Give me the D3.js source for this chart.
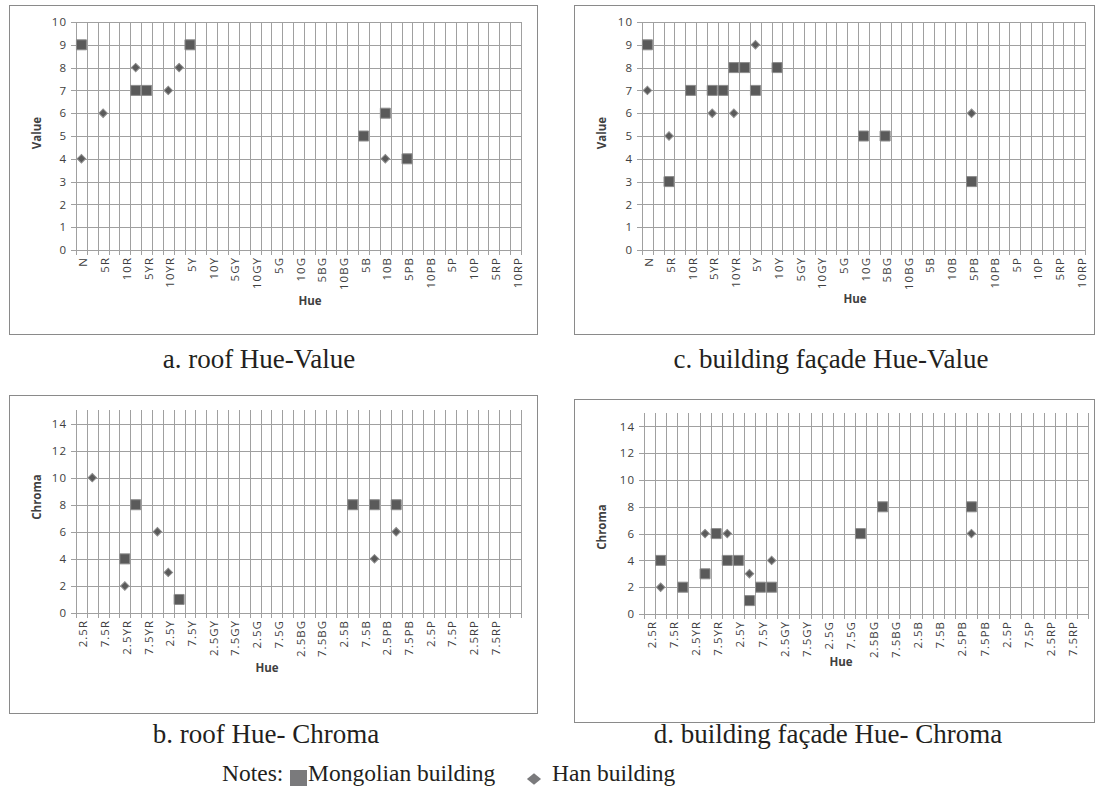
<!DOCTYPE html>
<html>
<head>
<meta charset="utf-8">
<script src="https://cdn.jsdelivr.net/npm/d3@7"></script>
<style>
body { margin: 0; background: #fff; }
svg { display: block; }
.tick { font-family: "Open Sans", sans-serif; font-size: 11.5px; fill: #404040; }
.title { font-family: "Open Sans", sans-serif; font-size: 11.5px; font-weight: bold; fill: #404040; }
.caption { font-family: "Liberation Serif", serif; font-size: 27px; fill: #231f20; }
.note { font-family: "Liberation Serif", serif; font-size: 23.5px; fill: #231f20; }
</style>
</head>
<body>
<svg></svg>
<script>
"use strict";

// hue categories
var valueHues = ["N",
    "2.5R", "5R", "7.5R", "10R", "2.5YR", "5YR", "7.5YR", "10YR",
    "2.5Y", "5Y", "7.5Y", "10Y", "2.5GY", "5GY", "7.5GY", "10GY",
    "2.5G", "5G", "7.5G", "10G", "2.5BG", "5BG", "7.5BG", "10BG",
    "2.5B", "5B", "7.5B", "10B", "2.5PB", "5PB", "7.5PB", "10PB",
    "2.5P", "5P", "7.5P", "10P", "2.5RP", "5RP", "7.5RP", "10RP"];
var chromaHuesRoof = valueHues.slice(1).concat([""]);
var chromaHuesFacade = valueHues.slice(1);

var valueTicks = [0, 1, 2, 3, 4, 5, 6, 7, 8, 9, 10];
var chromaTicks = [0, 2, 4, 6, 8, 10, 12, 14];

// a. roof Hue-Value
var roofValueMongolian = [["N", 9], ["2.5YR", 7], ["5YR", 7], ["5Y", 9], ["5B", 5], ["10B", 6], ["5PB", 4]];
var roofValueHan = [["N", 4], ["5R", 6], ["2.5YR", 8], ["10YR", 7], ["2.5Y", 8], ["10B", 4]];

// b. roof Hue-Chroma
var roofChromaMongolian = [["2.5YR", 4], ["5YR", 8], ["5Y", 1], ["5B", 8], ["10B", 8], ["5PB", 8]];
var roofChromaHan = [["5R", 10], ["2.5YR", 2], ["10YR", 6], ["2.5Y", 3], ["10B", 4], ["5PB", 6]];

// c. building facade Hue-Value
var facadeValueMongolian = [["N", 9], ["5R", 3], ["10R", 7], ["5YR", 7], ["7.5YR", 7], ["10YR", 8],
    ["2.5Y", 8], ["5Y", 7], ["10Y", 8], ["10G", 5], ["5BG", 5], ["5PB", 3]];
var facadeValueHan = [["N", 7], ["5R", 5], ["5YR", 6], ["10YR", 6], ["5Y", 9], ["5PB", 6]];

// d. building facade Hue-Chroma
var facadeChromaMongolian = [["5R", 4], ["10R", 2], ["5YR", 3], ["7.5YR", 6], ["10YR", 4], ["2.5Y", 4],
    ["5Y", 1], ["7.5Y", 2], ["10Y", 2], ["10G", 6], ["5BG", 8], ["5PB", 8]];
var facadeChromaHan = [["5R", 2], ["5YR", 6], ["10YR", 6], ["5Y", 3], ["10Y", 4], ["5PB", 6]];

var width = 1099,
    height = 789;

var svg = d3.select("svg")
    .attr("width", width)
    .attr("height", height);

var gridColor = "#a0a0a0",
    markFill = "#5a5a5a",
    markStroke = "#8c8c8c";

var squarePath = d3.symbol().type(d3.symbolSquare).size(100)();
var diamondPath = d3.symbol().type(d3.symbolSquare).size(36)();

function drawPanel(p) {
    var g = svg.append("g");

    g.append("rect")
        .attr("x", p.box[0] + 0.5).attr("y", p.box[1] + 0.5)
        .attr("width", p.box[2]).attr("height", p.box[3])
        .attr("fill", "#fff").attr("stroke", "#8a8a8a");

    var x = d3.scaleBand().domain(p.hues).range([p.left, p.right]).padding(0);
    var y = d3.scaleLinear().domain([0, p.ymax]).range([p.bottom, p.top]);

    // vertical grid lines (one per category boundary, with tick below)
    var edges = d3.range(p.hues.length + 1).map(function (i) {
        return Math.round(x.range()[0] + i * x.step()) + 0.5;
    });
    g.selectAll(".vgrid").data(edges).enter()
        .append("line")
        .attr("x1", function (d) { return d; })
        .attr("x2", function (d) { return d; })
        .attr("y1", y(p.ymax))
        .attr("y2", y(0) + 5)
        .attr("stroke", gridColor);

    // horizontal grid lines
    g.selectAll(".hgrid").data(p.ticks).enter()
        .append("line")
        .attr("x1", p.left - 5)
        .attr("x2", edges[edges.length - 1])
        .attr("y1", function (d) { return Math.round(y(d)) + 0.5; })
        .attr("y2", function (d) { return Math.round(y(d)) + 0.5; })
        .attr("stroke", gridColor);

    // y tick labels
    g.selectAll(".ylab").data(p.ticks).enter()
        .append("text")
        .attr("class", "tick")
        .attr("x", p.left - 9)
        .attr("y", function (d) { return y(d); })
        .attr("dy", "0.36em")
        .attr("text-anchor", "end")
        .style("letter-spacing", "1px")
        .text(function (d) { return d; });

    // x tick labels, every other category
    var shown = p.hues.filter(function (d, i) { return i % 2 === 0 && d !== ""; });
    g.selectAll(".xlab").data(shown).enter()
        .append("text")
        .attr("class", "tick")
        .attr("transform", function (d) {
            return "translate(" + (x(d) + x.bandwidth() / 2 + 6) + "," + (y(0) + 7) + ") rotate(-90)";
        })
        .attr("text-anchor", "end")
        .style("letter-spacing", "1px")
        .text(function (d) { return d; });

    // axis titles
    g.append("text")
        .attr("class", "title")
        .attr("x", p.hueTitle[0]).attr("y", p.hueTitle[1])
        .attr("text-anchor", "middle")
        .text("Hue");
    g.append("text")
        .attr("class", "title")
        .attr("transform", "translate(" + p.yTitle[0] + "," + p.yTitle[1] + ") rotate(-90)")
        .attr("text-anchor", "middle")
        .text(p.yName);

    // markers
    g.selectAll(".mong").data(p.mongolian).enter()
        .append("path")
        .attr("d", squarePath)
        .attr("transform", function (d) {
            return "translate(" + (x(d[0]) + x.bandwidth() / 2) + "," + y(d[1]) + ")";
        })
        .attr("fill", markFill)
        .attr("stroke", markStroke)
        .attr("stroke-width", 1);

    g.selectAll(".han").data(p.han).enter()
        .append("path")
        .attr("d", diamondPath)
        .attr("transform", function (d) {
            return "translate(" + (x(d[0]) + x.bandwidth() / 2) + "," + y(d[1]) + ") rotate(45)";
        })
        .attr("fill", markFill)
        .attr("stroke", markStroke)
        .attr("stroke-width", 1);

    svg.append("text")
        .attr("class", "caption")
        .attr("x", p.caption[0]).attr("y", p.caption[1])
        .attr("text-anchor", "middle")
        .text(p.captionText);
}

drawPanel({
    box: [9, 5, 528, 329], left: 76, right: 521, top: 22, bottom: 250,
    hues: valueHues, ymax: 10, ticks: valueTicks, yName: "Value",
    hueTitle: [310, 305], yTitle: [41, 133],
    mongolian: roofValueMongolian, han: roofValueHan,
    caption: [259, 368], captionText: "a. roof Hue-Value"
});

drawPanel({
    box: [574, 5, 520, 329], left: 642, right: 1085, top: 22, bottom: 250,
    hues: valueHues, ymax: 10, ticks: valueTicks, yName: "Value",
    hueTitle: [855, 303], yTitle: [606, 133],
    mongolian: facadeValueMongolian, han: facadeValueHan,
    caption: [831, 368], captionText: "c. building fa\u00e7ade Hue-Value"
});

drawPanel({
    box: [9, 395, 528, 318], left: 76, right: 521, top: 410, bottom: 613,
    hues: chromaHuesRoof, ymax: 15, ticks: chromaTicks, yName: "Chroma",
    hueTitle: [267, 672], yTitle: [41, 497],
    mongolian: roofChromaMongolian, han: roofChromaHan,
    caption: [266, 743], captionText: "b. roof Hue- Chroma"
});

drawPanel({
    box: [574, 399, 520, 323], left: 644, right: 1088, top: 413, bottom: 614,
    hues: chromaHuesFacade, ymax: 15, ticks: chromaTicks, yName: "Chroma",
    hueTitle: [841, 666], yTitle: [606, 527],
    mongolian: facadeChromaMongolian, han: facadeChromaHan,
    caption: [828, 743], captionText: "d. building fa\u00e7ade Hue- Chroma"
});

// notes / legend
var legend = svg.append("g");
legend.append("text").attr("class", "note").attr("x", 222).attr("y", 781).text("Notes:");
legend.append("rect")
    .attr("x", 290).attr("y", 770).attr("width", 17).attr("height", 16)
    .attr("fill", "#7a7a7c");
legend.append("text").attr("class", "note").attr("x", 308).attr("y", 781).text("Mongolian building");
legend.append("path")
    .attr("d", d3.symbol().type(d3.symbolSquare).size(100)())
    .attr("transform", "translate(534,779) scale(1,0.8) rotate(45)")
    .attr("fill", "#7a7a7c");
legend.append("text").attr("class", "note").attr("x", 552).attr("y", 781).text("Han building");
</script>
</body>
</html>
